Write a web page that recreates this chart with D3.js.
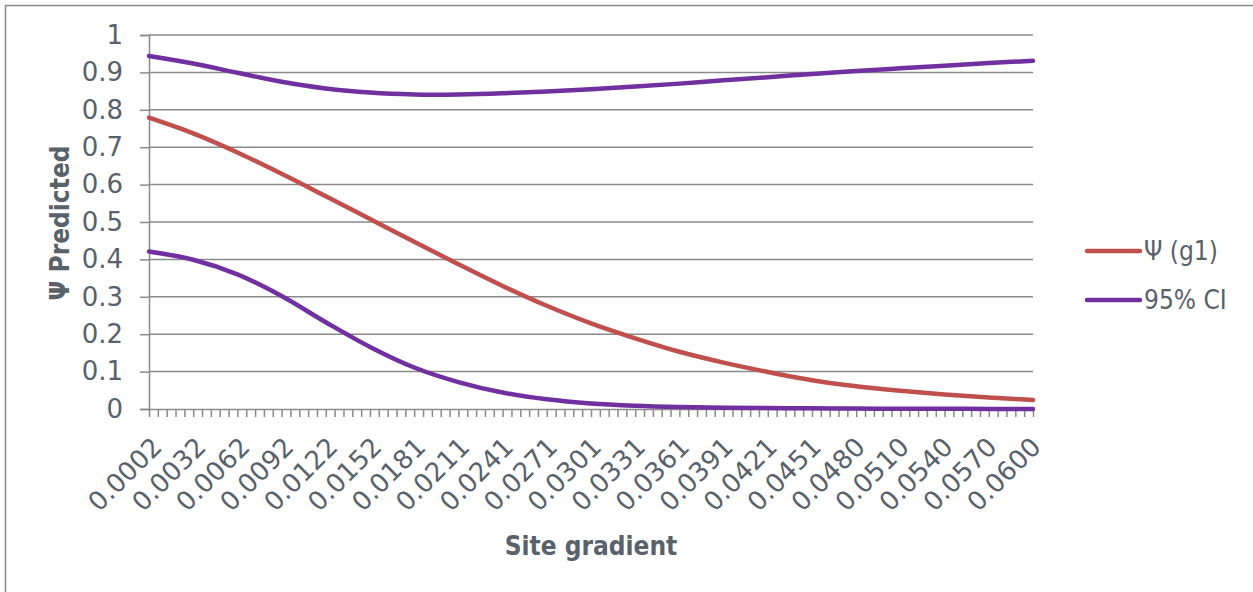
<!DOCTYPE html>
<html>
<head>
<meta charset="utf-8">
<script src="https://cdn.jsdelivr.net/npm/d3@7"></script>
<style>
  body { margin: 0; background: #fff; }
  svg { display: block; }
  text {
    font-family: "DejaVu Sans Condensed", "DejaVu Sans", Verdana, sans-serif;
    font-stretch: condensed;
    fill: #59616b;
  }
  text.num {
    font-family: "DejaVu Sans", Verdana, sans-serif;
    font-stretch: normal;
  }
</style>
</head>
<body>
<svg id="chart" width="1253" height="592"></svg>
<script>
// Site gradient categories shown on the axis (every 5th of 101 categories)
const gradientLabels = ["0.0002","0.0032","0.0062","0.0092","0.0122","0.0152","0.0181",
  "0.0211","0.0241","0.0271","0.0301","0.0331","0.0361","0.0391","0.0421","0.0451",
  "0.0480","0.0510","0.0540","0.0570","0.0600"];
const categoryCount = 101;
const labelEvery = 5;

// Predicted occupancy and its 95% confidence limits at the labelled categories
const psiValues = [0.779,0.737,0.686,0.629,0.569,0.508,0.447,0.387,0.329,0.276,0.229,
  0.189,0.153,0.124,0.099,0.077,0.061,0.049,0.039,0.031,0.024];
const ciUpper = [0.944,0.924,0.899,0.875,0.857,0.846,0.841,0.841,0.844,0.849,0.855,
  0.862,0.870,0.879,0.887,0.896,0.904,0.911,0.918,0.925,0.931];
const ciLower = [0.421,0.399,0.360,0.302,0.232,0.166,0.111,0.072,0.044,0.026,0.015,
  0.009,0.0055,0.0035,0.0025,0.0018,0.0012,0.0008,0.0005,0.0003,0.0002];

const yTicks = [0, 0.1, 0.2, 0.3, 0.4, 0.5, 0.6, 0.7, 0.8, 0.9, 1];
const yTickLabels = ["0","0.1","0.2","0.3","0.4","0.5","0.6","0.7","0.8","0.9","1"];

const seriesColors = { psi: "#c0504d", ci: "#7030a0" };
const gridColor = "#8a8a8a";
const fontSize = 26;

const svg = d3.select("#chart");

// outer chart frame
svg.append("rect")
  .attr("x", 5.5).attr("y", 5.5)
  .attr("width", 1300).attr("height", 700)
  .attr("fill", "none").attr("stroke", "#8a8a8a").attr("stroke-width", 1.5);

const plot = { left: 149, right: 1033, top: 35, bottom: 409 };

const x = d3.scaleLinear().domain([0, categoryCount - 1]).range([plot.left, plot.right]);
const y = d3.scaleLinear().domain([0, 1]).range([plot.bottom, plot.top]);
// anchor points of the rotated category labels
const labelX = d3.scalePoint().domain(gradientLabels).range([plot.left + 8, plot.right + 3]);

// horizontal gridlines
svg.append("g")
  .selectAll("line")
  .data(yTicks.filter(d => d > 0))
  .join("line")
  .attr("x1", plot.left).attr("x2", plot.right)
  .attr("y1", d => y(d)).attr("y2", d => y(d))
  .attr("stroke", gridColor).attr("stroke-width", 1.5);

// y axis
const yAxis = svg.append("g")
  .attr("transform", `translate(${plot.left},0)`)
  .call(d3.axisLeft(y).tickValues(yTicks).tickSize(9).tickPadding(17)
    .tickFormat((d, i) => yTickLabels[i]));
yAxis.attr("font-family", null).attr("font-size", null);
yAxis.select(".domain").attr("stroke", gridColor).attr("stroke-width", 1.5);
yAxis.selectAll(".tick line").attr("stroke", gridColor).attr("stroke-width", 1.5);
yAxis.selectAll(".tick text")
  .attr("class", "num")
  .attr("font-size", fontSize)
  .attr("fill", "#59616b");

// x axis with a tick mark on every category
const xAxis = svg.append("g")
  .attr("transform", `translate(0,${plot.bottom})`)
  .call(d3.axisBottom(x).tickValues(d3.range(categoryCount)).tickSize(8)
    .tickSizeOuter(0).tickFormat(""));
xAxis.select(".domain").attr("stroke", gridColor).attr("stroke-width", 1.5);
xAxis.selectAll(".tick line").attr("stroke", gridColor).attr("stroke-width", 1.5);

// rotated category labels
svg.append("g")
  .selectAll("text")
  .data(gradientLabels)
  .join("text")
  .attr("class", "num")
  .attr("transform", d => `translate(${labelX(d)},${plot.bottom + 33}) rotate(-45)`)
  .attr("text-anchor", "end")
  .attr("dy", "0.35em")
  .attr("font-size", fontSize)
  .text(d => d);

// axis titles
svg.append("text")
  .attr("transform", "translate(60,223) rotate(-90)")
  .attr("text-anchor", "middle")
  .attr("dy", "0.35em")
  .attr("font-size", fontSize)
  .attr("font-weight", "bold")
  .text("Ψ Predicted");

svg.append("text")
  .attr("x", 591).attr("y", 555)
  .attr("text-anchor", "middle")
  .attr("font-size", fontSize)
  .attr("font-weight", "bold")
  .text("Site gradient");

// series lines
const line = d3.line()
  .x((d, i) => x(i * labelEvery))
  .y(d => y(d))
  .curve(d3.curveCatmullRom.alpha(0.5));

const series = [
  { values: ciUpper, color: seriesColors.ci },
  { values: ciLower, color: seriesColors.ci },
  { values: psiValues, color: seriesColors.psi }
];

svg.append("g")
  .selectAll("path")
  .data(series)
  .join("path")
  .attr("d", d => line(d.values))
  .attr("fill", "none")
  .attr("stroke", d => d.color)
  .attr("stroke-width", 4.5)
  .attr("stroke-linecap", "round")
  .attr("stroke-linejoin", "round");

// legend
const legendItems = [
  { label: "Ψ (g1)", color: seriesColors.psi },
  { label: "95% CI", color: seriesColors.ci }
];
const legend = svg.append("g")
  .selectAll("g")
  .data(legendItems)
  .join("g")
  .attr("transform", (d, i) => `translate(1087,${251 + i * 49})`);
legend.append("line")
  .attr("x1", 0).attr("x2", 53)
  .attr("stroke", d => d.color)
  .attr("stroke-width", 4.5)
  .attr("stroke-linecap", "round");
legend.append("text")
  .attr("x", 57)
  .attr("dy", "0.36em")
  .attr("font-size", fontSize)
  .text(d => d.label);
</script>
</body>
</html>
